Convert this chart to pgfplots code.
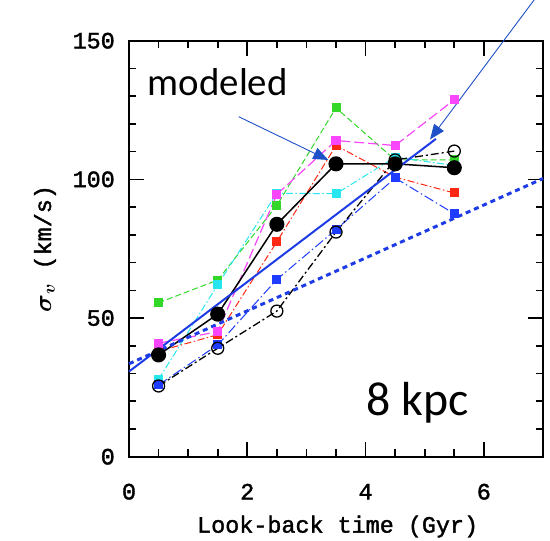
\documentclass[border=0pt]{standalone}
\usepackage{amsmath}
\usepackage{fontspec}
\setmainfont{Liberation Mono}[FakeBold=1.6]
\newfontfamily\califont{Carlito}
\usepackage{pgfplots}
\pgfplotsset{compat=1.18}
\usetikzlibrary{arrows.meta}
\definecolor{cgreen}{RGB}{50,215,40}
\definecolor{cmag}{RGB}{250,70,250}
\definecolor{cred}{RGB}{255,40,20}
\definecolor{ccyan}{RGB}{40,230,240}
\definecolor{cblue}{RGB}{30,60,255}
\definecolor{cfit}{RGB}{30,60,230}
\definecolor{carrow}{RGB}{30,80,200}
\begin{document}
\begin{tikzpicture}
\begin{axis}[
  scale only axis, width=414bp, height=416bp,
  xmin=0, xmax=7, ymin=0, ymax=150,
  xtick={0,2,4,6}, ytick={0,50,100,150},
  minor x tick num=3, minor y tick num=4,
  major tick length=15bp, minor tick length=7.5bp,
  tick style={line width=1.6bp, black},
  axis line style={line width=2bp},
  clip=false,
  /pgf/number format/assume math mode=true,
  tick label style={font=\fontsize{23.5}{28}\selectfont},
  label style={font=\fontsize{23.5}{28}\selectfont},
  xticklabel style={anchor=center, yshift=-35bp},
  yticklabel style={anchor=east, inner sep=0pt, xshift=-14bp},
  xlabel={Look-back time (Gyr)},
  ylabel={$\boldsymbol{\sigma}_{\boldsymbol{v}}$ (km/s)},
  xlabel style={at={(axis description cs:0.504,-0.168)}, anchor=center},
  ylabel style={at={(axis description cs:-0.203,0.5)}, anchor=center},
]
% green
\addplot[cgreen, line width=1bp, dash pattern=on 6bp off 3bp, mark=square*, mark size=4bp, mark options={solid}]
 coordinates {(0.5,55.5) (1.5,63.7) (2.5,90.6) (3.5,125.8) (4.5,107) (5.5,107)};
% cyan
\addplot[ccyan, line width=1bp, dash pattern=on 7bp off 2.5bp on 1.5bp off 2.5bp, mark=square*, mark size=4bp, mark options={solid}]
 coordinates {(0.5,27.9) (1.5,62) (2.5,95) (3.5,94.8) (4.5,108) (5.5,105)};
% red
\addplot[cred, line width=1bp, dash pattern=on 7bp off 2.5bp on 1.5bp off 2.5bp, mark=square*, mark size=4bp, mark options={solid}]
 coordinates {(0.5,38) (1.5,44) (2.5,77.5) (3.5,112.2) (4.5,100.8) (5.5,95.1)};
% magenta
\addplot[cmag, line width=1.2bp, dash pattern=on 10bp off 4bp, mark=square*, mark size=4bp, mark options={solid}]
 coordinates {(0.5,40.9) (1.5,45.1) (2.5,94.6) (3.5,114) (4.5,112.2) (5.5,128.7)};
% blue squares
\addplot[cblue, line width=1bp, dash pattern=on 10bp off 3bp on 1.5bp off 3bp, mark=square*, mark size=4bp, mark options={solid}]
 coordinates {(0.5,25.9) (1.5,40.3) (2.5,63.9) (3.5,81.9) (4.5,100.5) (5.5,87.6)};
% black open circles
\addplot[black, line width=1.3bp, dash pattern=on 8bp off 3bp on 2bp off 3bp, mark=o, mark size=6bp, mark options={solid, line width=1.3bp}]
 coordinates {(0.5,25.5) (1.5,39.1) (2.5,52.5) (3.5,81) (4.5,107) (5.5,110.2)};
% black filled
\addplot[black, line width=1.5bp, mark=*, mark size=6.8bp]
 coordinates {(0.5,36.7) (1.5,51.4) (2.5,83.8) (3.5,105.6) (4.5,105.6) (5.5,104.2)};
% fit lines
\addplot[cfit, line width=2bp] coordinates {(0,30.7) (5.19,114.6)};
\addplot[cfit, line width=3bp, dash pattern=on 5bp off 4bp] coordinates {(0,33.5) (7,100.3)};
% annotations
\draw[carrow, line width=0.9bp, -{Triangle[length=15bp,width=12bp]}] (axis cs:1.855,122.6) -- (axis cs:3.37,107.0);
\draw[carrow, line width=0.9bp, -{Triangle[length=15bp,width=12bp]}] (axis cs:6.85,164.7) -- (axis cs:5.09,114.4);
\node[anchor=base, inner sep=0pt, font=\califont\fontsize{39}{40}\selectfont] at (axis cs:1.50,130.4) {modeled};
\node[anchor=base, inner sep=0pt, font=\califont\fontsize{48}{50}\selectfont] at (axis cs:4.88,15.0) {8 kpc};
\end{axis}
\pgfresetboundingbox
\path[use as bounding box] ([shift={(-129bp,-84.3bp)}]current axis.south west) rectangle ([shift={(7bp,40.7bp)}]current axis.north east);
\end{tikzpicture}
\end{document}
